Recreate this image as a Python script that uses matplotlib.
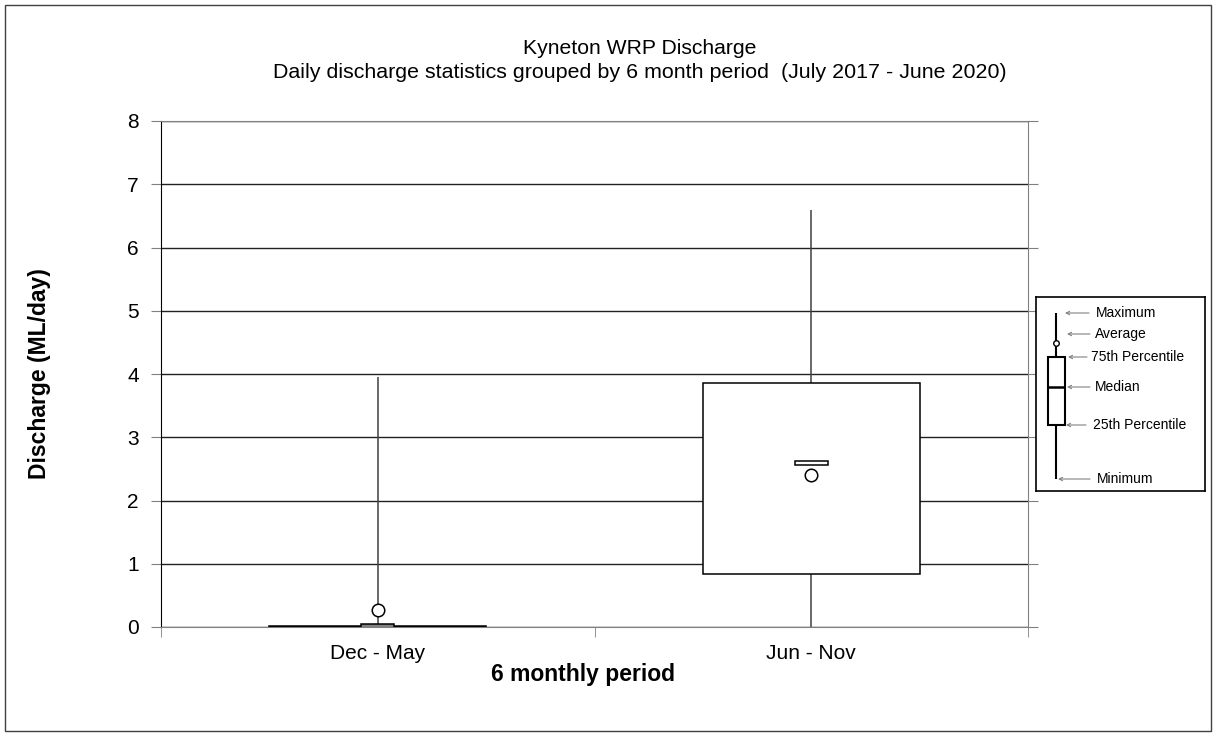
import matplotlib.pyplot as plt
from matplotlib.patches import Rectangle

plt.rcParams['font.family'] = ['Liberation Sans', 'DejaVu Sans']

# daily discharge statistics (ML/day)
categories = ['Dec - May', 'Jun - Nov']
minimum = [0.0, 0.0]
q1 = [0.0, 0.84]
median = [0.01, 2.59]
q3 = [0.01, 3.85]
maximum = [3.95, 6.6]
average = [0.27, 2.40]
median_fill = ['#808080', 'white']
yticks = list(range(0, 9))

W, H = 1216, 736
fig = plt.figure(figsize=(W / 100, H / 100), dpi=100)
ax = fig.add_axes([161 / W, 1 - 627 / H, 867 / W, 506 / H])

x = list(range(len(categories)))

# whiskers
ax.vlines(x, minimum, maximum, color='#404040', lw=1.1, zorder=2)
# boxes
ax.bar(x, [b - a for a, b in zip(q1, q3)], bottom=q1, width=0.5,
       facecolor='white', edgecolor='black', lw=1.1, zorder=3)
# median markers
for i in x:
    ax.bar(i, 0.07, bottom=median[i] - 0.035, width=0.075,
           facecolor=median_fill[i], edgecolor='black', lw=1.1, zorder=4)
# averages
ax.plot(x, average, 'o', ms=9, mfc='white', mec='black', mew=1.1, zorder=5)

ax.set_xlim(-0.5, 1.5)
ax.set_ylim(0, 8)
ax.set_yticks(yticks)
ax.yaxis.grid(True, color='#222222', lw=1.0)
ax.set_axisbelow(True)
ax.set_xticks(x)
ax.set_xticklabels(categories, fontsize=15)
ax.set_xticks([-0.5, 0.5, 1.5], minor=True)
ax.tick_params(axis='x', which='major', length=0, pad=12)
ax.tick_params(axis='x', which='minor', length=7, color='#808080')
ax.tick_params(axis='y', labelsize=15, length=7, color='#808080', right=True, pad=9)
for s in ['bottom', 'right', 'top']:
    ax.spines[s].set_color('#808080')
ax.spines['left'].set_color('black')

ax.set_ylabel('Discharge (ML/day)', fontsize=16.5, fontweight='bold', va='center')
ax.yaxis.set_label_coords((40 - 161) / 867, 0.5)
ax.set_xlabel('6 monthly period', fontsize=16.5, fontweight='bold', va='center')
ax.xaxis.set_label_coords((583 - 161) / 867, -(675 - 627) / 506)

fig.text(640 / W, 1 - 48 / H, 'Kyneton WRP Discharge', ha='center', va='center', fontsize=15.2)
fig.text(640 / W, 1 - 72 / H,
         'Daily discharge statistics grouped by 6 month period  (July 2017 - June 2020)',
         ha='center', va='center', fontsize=15.4)

# key box drawn in pixel-like coordinates
lg = fig.add_axes([1036 / W, 1 - 491 / H, 169 / W, 194 / H])
lg.set_xlim(1036, 1205)
lg.set_ylim(491, 297)
lg.set_xticks([])
lg.set_yticks([])
for s in lg.spines.values():
    s.set_color('black')
    s.set_linewidth(1.2)
lg.vlines(1056, 313, 479, color='black', lw=1.5)
lg.add_patch(Rectangle((1047.5, 357), 17.5, 68, facecolor='white', edgecolor='black', lw=1.5, zorder=3))
lg.hlines(387, 1048, 1064.5, color='black', lw=1.8, zorder=4)
lg.plot(1056, 343, 'o', ms=4, mfc='white', mec='black', mew=1, zorder=4)
key_labels = ['Maximum', 'Average', '75th Percentile', 'Median', '25th Percentile', 'Minimum']
key_y = [313, 334, 357, 387, 425, 479]
key_x0 = [1065, 1067, 1068, 1067, 1066, 1058]
key_x1 = [1089, 1090, 1087, 1090, 1086, 1090]
key_tx = [1096, 1095, 1091, 1095, 1093, 1097]
for lab, yy, a, b, t in zip(key_labels, key_y, key_x0, key_x1, key_tx):
    lg.annotate('', xy=(a, yy), xytext=(b, yy),
                arrowprops=dict(arrowstyle='->', color='#808080', lw=0.8, shrinkA=0, shrinkB=0,
                                mutation_scale=6))
    lg.text(t, yy, lab, ha='left', va='center', fontsize=10)

fig.patches.append(Rectangle((5 / W, 5 / H), 1206 / W, 726 / H, transform=fig.transFigure,
                             fill=False, edgecolor='#404040', lw=1))

fig.savefig('out.png', dpi=100)
